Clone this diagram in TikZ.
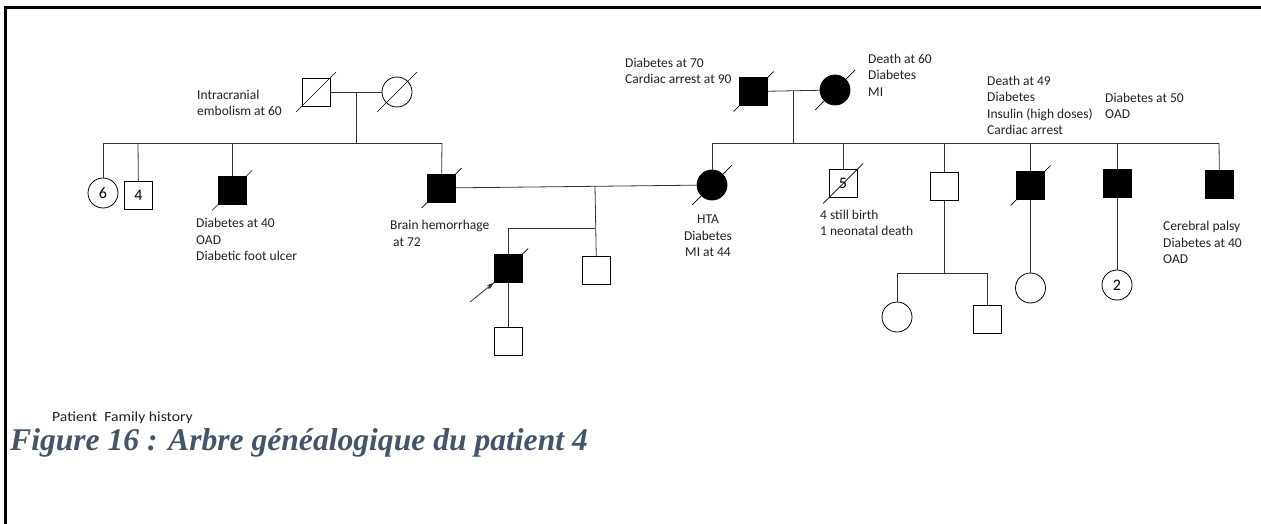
\documentclass[tikz,border=0pt]{standalone}
\usepackage{fontspec}
\setmainfont{Carlito}
\newfontfamily\capfont{Liberation Serif}
\usetikzlibrary{arrows.meta}
\definecolor{capcol}{HTML}{44546A}
\definecolor{txt}{HTML}{222222}
\tikzset{
  x=1pt, y=-1pt,
  pers/.style={draw=black, line width=0.8pt, inner sep=0pt, font=\fontsize{16}{18}\selectfont},
  male/.style={pers, rectangle, minimum size=28pt},
  fem/.style={pers, circle, minimum size=30pt},
  aff/.style={fill=black},
  conn/.style={draw=black!80, line width=0.8pt},
  slashline/.style={draw=black, line width=0.7pt},
  note/.style={inner sep=0pt, text=txt, align=left, font=\fontsize{13.5}{16.5}\selectfont},
}
\newcommand{\deceased}[1]{\draw[slashline] (#1.center) ++(-20,20) -- ++(40,-40);}
\begin{document}
\begin{tikzpicture}
\useasboundingbox (0,0) rectangle (1261,524);
\fill[white] (0,0) rectangle (1261,524);
\draw[line width=3pt] (1261,8) -- (5,8) -- (5,524);

% ---------- left grandparents ----------
\node[male] (gf1) at (316,92) {};
\node[fem] (gm1) at (397,92) {};
\deceased{gf1}
\deceased{gm1}
\draw[conn] (gf1) -- (gm1);
\coordinate (m1) at (356,92);
\coordinate (s1) at (356,143);
\coordinate (s1l) at (103,143);
\coordinate (s1r) at (442,143);
\draw[conn] (m1) -- (s1);
\draw[conn] (s1l) -- (s1r);

\node[fem] (n6) at (103,193) {6};
\node[male] (n4) at (138.5,195) {4};
\node[male,aff] (d40) at (232,190.5) {};
\node[male,aff] (bh) at (441.5,188) {};
\deceased{d40}
\deceased{bh}
\coordinate (t6) at (103,143);
\coordinate (t4) at (138,143);
\coordinate (t40) at (232,143);
\draw[conn] (t6) -- (n6);
\draw[conn] (t4) -- (n4);
\draw[conn] (t40) -- (d40);
\draw[conn] (s1r) -- (bh);

% ---------- right grandparents ----------
\node[male,aff] (gf2) at (753.5,91.5) {};
\node[fem,aff] (gm2) at (835,90) {};
\deceased{gf2}
\deceased{gm2}
\draw[conn] (gf2) -- (gm2);
\coordinate (m2) at (793,91);
\coordinate (s2) at (793,143);
\coordinate (s2l) at (712,143);
\coordinate (s2r) at (1219,143);
\draw[conn] (m2) -- (s2);
\draw[conn] (s2l) -- (s2r);

\node[fem,aff] (hta) at (712,185) {};
\node[male] (five) at (843,183.5) {5};
\node[male] (u1) at (944.5,186.5) {};
\node[male,aff] (d49) at (1030.5,185.5) {};
\node[male,aff] (d50) at (1117,183.5) {};
\node[male,aff] (cp) at (1219.5,184.5) {};
\deceased{hta}
\deceased{five}
\deceased{d49}
\coordinate (tf) at (843,143);
\coordinate (tu) at (944.5,143);
\coordinate (t49) at (1030.5,143);
\coordinate (t50) at (1117,143);
\draw[conn] (s2l) -- (hta);
\draw[conn] (tf) -- (five);
\draw[conn] (tu) -- (u1);
\draw[conn] (t49) -- (d49);
\draw[conn] (t50) -- (d50);
\draw[conn] (s2r) -- (cp);

% ---------- couple bh - hta ----------
\draw[conn] (bh) -- (hta);
\coordinate (m3) at (595,186);
\coordinate (s3) at (595,228);
\coordinate (s3l) at (508,228);
\node[male,aff] (prob) at (508,268.5) {};
\node[male] (sib) at (596.5,270.5) {};
\deceased{prob}
\draw[conn] (s3l) -- (s3);
\draw[conn] (m3) -- (sib);
\draw[conn] (s3l) -- (prob);
\coordinate (pa) at (470,302);
\draw[conn, -{Stealth[length=7pt,width=5pt]}] (pa) -- (prob.south west);
\node[male] (pc) at (508,341.5) {};
\draw[conn] (prob) -- (pc);

% ---------- next generation right ----------
\coordinate (s4) at (944.5,273);
\coordinate (s4l) at (897,273);
\coordinate (s4r) at (987,273);
\node[fem] (uc1) at (897,317) {};
\node[male] (uc2) at (987,319.5) {};
\draw[conn] (u1) -- (s4);
\draw[conn] (s4l) -- (s4r);
\draw[conn] (s4l) -- (uc1);
\draw[conn] (s4r) -- (uc2);
\node[fem] (c49) at (1030.5,288) {};
\draw[conn] (d49) -- (c49);
\node[fem] (c50) at (1117,285) {2};
\draw[conn] (d50) -- (c50);

% ---------- annotations ----------
\node[note, anchor=west] (a1) at (197,103) {Intracranial\\embolism at 60};
\node[note, anchor=west] (a2) at (196,239.5) {Diabetes at 40\\OAD\\Diabetic foot ulcer};
\node[note, anchor=west] (a3) at (390,233.5) {Brain hemorrhage\\\hspace{3pt}at 72};
\node[note, align=center] (a4) at (708,236) {HTA\\Diabetes\\MI at 44};
\node[note, anchor=west] (a5) at (625,71) {Diabetes at 70\\Cardiac arrest at 90};
\node[note, anchor=west] (a6) at (868,75) {Death at 60\\Diabetes\\MI};
\node[note, anchor=west] (a7) at (820,223) {4 still birth\\1 neonatal death};
\node[note, anchor=west] (a8) at (987,105.5) {Death at 49\\Diabetes\\Insulin (high doses)\\Cardiac arrest};
\node[note, anchor=west] (a9) at (1105,106) {Diabetes at 50\\OAD};
\node[note, anchor=west] (a10) at (1163,242.5) {Cerebral palsy\\Diabetes at 40\\OAD};

\node[inner sep=0pt, anchor=base west, text=txt, font=\fontsize{14}{16}\selectfont] (fh) at (52,421) {\scalebox{1.12}[1]{Patient\ \ Family history}};
\node[inner sep=0pt, anchor=base west, text=capcol, font=\capfont\bfseries\itshape\fontsize{31.6}{36}\selectfont] (cap) at (10,450) {Figure 16 : Arbre généalogique du patient 4};
\end{tikzpicture}
\end{document}
